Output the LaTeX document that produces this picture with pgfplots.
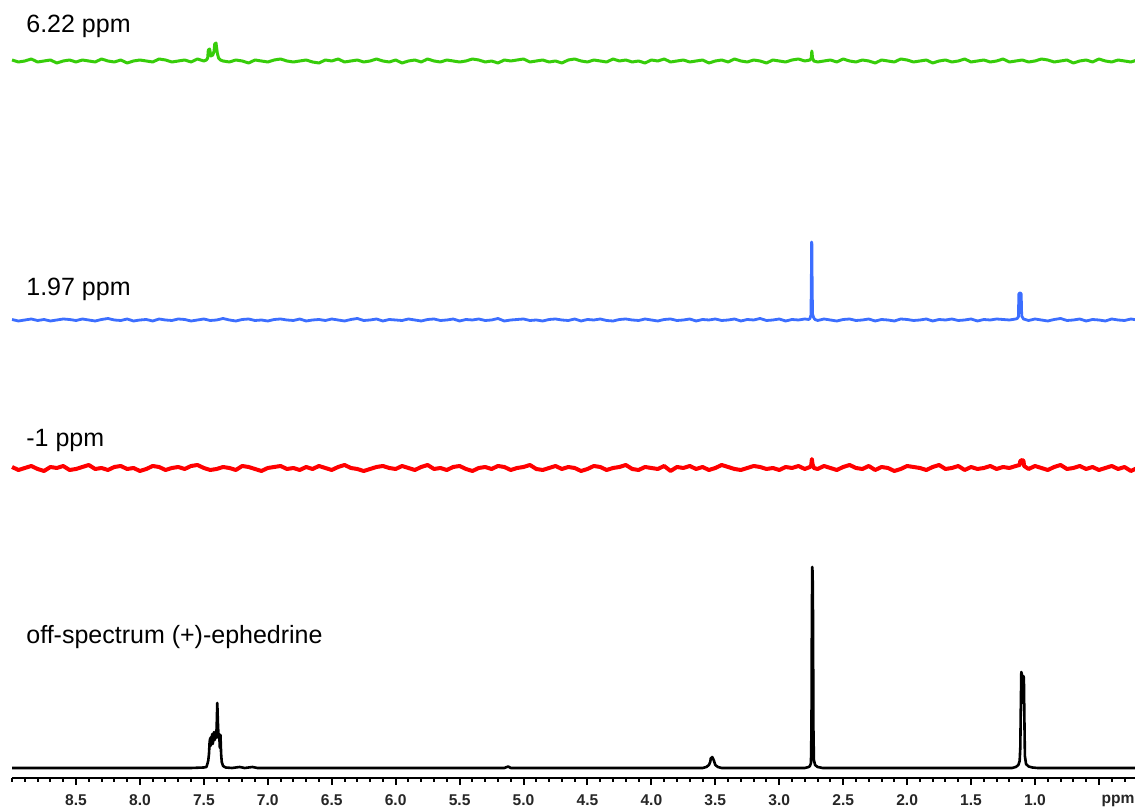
\documentclass[border=0pt]{standalone}
\usepackage{pgfplots}
\usepackage{pgfplotstable}
\pgfplotsset{compat=1.18}
\usepackage{fontspec}
\setmainfont{Liberation Sans}
\definecolor{sgreen}{RGB}{55,205,10}
\definecolor{sblue}{RGB}{60,110,255}
\definecolor{sred}{RGB}{255,0,0}

% black: off-spectrum (+)-ephedrine, intensity above its baseline (px)
\pgfplotstableread[row sep=\\]{
x y\\
9.00 0\\ 7.60 0\\ 7.50 0.5\\ 7.48 1\\ 7.47 5\\ 7.465 8\\ 7.46 14\\ 7.455 26\\ 7.45 30\\ 7.447 22\\
7.444 31\\ 7.44 26\\ 7.435 34\\ 7.43 24\\ 7.425 30\\ 7.42 36\\ 7.415 28\\ 7.41 33\\ 7.405 30\\
7.40 40\\ 7.395 65\\ 7.39 45\\ 7.385 30\\ 7.38 34\\ 7.375 20\\ 7.37 33\\ 7.365 14\\ 7.36 6\\ 7.35 2\\
7.33 0.5\\ 7.28 0\\ 7.22 1\\ 7.18 0\\ 7.12 1\\ 7.08 0\\ 5.15 0\\ 5.12 1.5\\ 5.10 0\\
3.60 0\\ 3.57 1\\ 3.55 3\\ 3.54 6\\ 3.535 10\\ 3.53 9\\ 3.525 11\\ 3.52 10\\ 3.51 7\\ 3.50 3\\ 3.48 1\\ 3.45 0\\
2.80 0\\ 2.77 1\\ 2.76 2\\ 2.752 5\\ 2.748 40\\ 2.745 150\\ 2.742 201\\ 2.739 195\\ 2.736 150\\ 2.733 40\\ 2.729 8\\ 2.72 3\\ 2.70 1\\ 2.66 0\\
1.18 0\\ 1.15 1\\ 1.13 3\\ 1.12 7\\ 1.115 20\\ 1.111 60\\ 1.107 96\\ 1.103 94\\ 1.099 70\\ 1.095 65\\
1.091 92\\ 1.087 90\\ 1.083 50\\ 1.079 12\\ 1.07 4\\ 1.05 1.5\\ 1.02 0.5\\ 0.98 0\\ 0.20 0\\
}\blacktab

% red: -1 ppm
\pgfplotstableread[row sep=\\]{
x y\\
9.00 1\\ 8.95 -2\\ 8.90 0\\ 8.85 2\\ 8.80 -1\\ 8.75 -3\\ 8.70 1\\ 8.65 0\\ 8.60 2\\ 8.55 -2\\
8.50 -1\\ 8.45 1\\ 8.40 3\\ 8.35 -1\\ 8.30 0\\ 8.25 -2\\ 8.20 1\\ 8.15 2\\ 8.10 -1\\ 8.05 0\\
8.00 -3\\ 7.95 -1\\ 7.90 2\\ 7.85 1\\ 7.80 -2\\ 7.75 0\\ 7.70 1\\ 7.65 -1\\ 7.60 2\\ 7.55 3\\
7.50 0\\ 7.45 -2\\ 7.40 -1\\ 7.35 1\\ 7.30 0\\ 7.25 -2\\ 7.20 2\\ 7.15 1\\ 7.10 -1\\ 7.05 -3\\
7.00 0\\ 6.95 1\\ 6.90 2\\ 6.85 -1\\ 6.80 0\\ 6.75 -2\\ 6.70 1\\ 6.65 -1\\ 6.60 2\\ 6.55 0\\
6.50 -2\\ 6.45 1\\ 6.40 3\\ 6.35 0\\ 6.30 -1\\ 6.25 -3\\ 6.20 -1\\ 6.15 1\\ 6.10 2\\ 6.05 0\\
6.00 -1\\ 5.95 2\\ 5.90 0\\ 5.85 -2\\ 5.80 1\\ 5.75 3\\ 5.70 -1\\ 5.65 0\\ 5.60 -2\\ 5.55 1\\
5.50 2\\ 5.45 -1\\ 5.40 -3\\ 5.35 0\\ 5.30 1\\ 5.25 -1\\ 5.20 2\\ 5.15 1\\ 5.10 -2\\ 5.05 0\\
5.00 1\\ 4.95 3\\ 4.90 -1\\ 4.85 -2\\ 4.80 0\\ 4.75 2\\ 4.70 -1\\ 4.65 1\\ 4.60 0\\ 4.55 -3\\
4.50 -1\\ 4.45 2\\ 4.40 1\\ 4.35 -2\\ 4.30 0\\ 4.25 1\\ 4.20 3\\ 4.15 -1\\ 4.10 -2\\ 4.05 1\\
4.00 0\\ 3.95 -1\\ 3.90 2\\ 3.85 -3\\ 3.80 1\\ 3.75 0\\ 3.70 2\\ 3.65 -1\\ 3.60 1\\ 3.55 -2\\
3.50 0\\ 3.45 3\\ 3.40 1\\ 3.35 -1\\ 3.30 -2\\ 3.25 0\\ 3.20 2\\ 3.15 1\\ 3.10 -1\\ 3.05 0\\
3.00 -2\\ 2.95 1\\ 2.90 0\\ 2.85 2\\ 2.80 -1\\ 2.76 1\\ 2.75 3\\ 2.745 9\\ 2.74 4\\ 2.73 0\\
2.70 -1\\ 2.65 2\\ 2.60 0\\ 2.55 -2\\ 2.50 1\\ 2.45 3\\ 2.40 0\\ 2.35 -1\\ 2.30 2\\ 2.25 -2\\
2.20 1\\ 2.15 0\\ 2.10 -3\\ 2.05 -1\\ 2.00 2\\ 1.95 1\\ 1.90 0\\ 1.85 -2\\ 1.80 1\\ 1.75 3\\
1.70 -1\\ 1.65 0\\ 1.60 2\\ 1.55 -2\\ 1.50 1\\ 1.45 -1\\ 1.40 0\\ 1.35 2\\ 1.30 -1\\ 1.25 1\\
1.20 0\\ 1.15 2\\ 1.12 3\\ 1.115 7\\ 1.10 8\\ 1.09 7\\ 1.085 2\\
1.05 -1\\ 1.00 2\\ 0.95 0\\ 0.90 -2\\ 0.85 1\\ 0.80 3\\ 0.75 -1\\ 0.70 0\\ 0.65 2\\ 0.60 -1\\
0.55 1\\ 0.50 -2\\ 0.45 0\\ 0.40 2\\ 0.35 -1\\ 0.30 1\\ 0.25 -3\\ 0.20 0\\
}\redtab

% blue: 1.97 ppm
\pgfplotstableread[row sep=\\]{
x y\\
9.00 0.5\\ 8.95 -1\\ 8.90 0\\ 8.85 1\\ 8.80 -0.5\\ 8.75 0.5\\ 8.70 -1\\ 8.65 0\\ 8.60 1\\ 8.55 0.5\\
8.50 -0.5\\ 8.45 1\\ 8.40 0\\ 8.35 -1\\ 8.30 0.5\\ 8.25 1.5\\ 8.20 0\\ 8.15 -0.5\\ 8.10 1\\ 8.05 -1\\
8.00 0\\ 7.95 0.5\\ 7.90 -1\\ 7.85 1\\ 7.80 0\\ 7.75 -0.5\\ 7.70 1\\ 7.65 0.5\\ 7.60 -1\\ 7.55 0\\
7.50 1\\ 7.45 -0.5\\ 7.40 0\\ 7.35 1.5\\ 7.30 0\\ 7.25 -1\\ 7.20 0.5\\ 7.15 1\\ 7.10 -0.5\\ 7.05 0\\
7.00 -1\\ 6.95 0.5\\ 6.90 1\\ 6.85 0\\ 6.80 -0.5\\ 6.75 1\\ 6.70 -1\\ 6.65 0\\ 6.60 0.5\\ 6.55 -0.5\\
6.50 1\\ 6.45 0\\ 6.40 -1\\ 6.35 0.5\\ 6.30 1.5\\ 6.25 -0.5\\ 6.20 0\\ 6.15 1\\ 6.10 -1\\ 6.05 0.5\\
6.00 0\\ 5.95 -0.5\\ 5.90 1\\ 5.85 0\\ 5.80 -1\\ 5.75 0.5\\ 5.70 1\\ 5.65 -0.5\\ 5.60 0\\ 5.55 1\\
5.50 -1\\ 5.45 0.5\\ 5.40 0\\ 5.35 1\\ 5.30 -0.5\\ 5.25 0\\ 5.20 1.5\\ 5.15 -1\\ 5.10 0\\ 5.05 0.5\\
5.00 1\\ 4.95 -0.5\\ 4.90 0\\ 4.85 -1\\ 4.80 0.5\\ 4.75 1\\ 4.70 0\\ 4.65 -0.5\\ 4.60 1\\ 4.55 -1\\
4.50 0.5\\ 4.45 0\\ 4.40 1\\ 4.35 -0.5\\ 4.30 -1\\ 4.25 0.5\\ 4.20 1\\ 4.15 0\\ 4.10 -0.5\\ 4.05 1\\
4.00 0\\ 3.95 -1\\ 3.90 0.5\\ 3.85 1\\ 3.80 -0.5\\ 3.75 0\\ 3.70 1\\ 3.65 -1\\ 3.60 0.5\\ 3.55 0\\
3.50 1\\ 3.45 -0.5\\ 3.40 0\\ 3.35 1\\ 3.30 -1\\ 3.25 0.5\\ 3.20 0\\ 3.15 1.5\\ 3.10 -0.5\\ 3.05 0\\
3.00 1\\ 2.95 -1\\ 2.90 0.5\\ 2.85 0\\ 2.80 1\\ 2.77 0.5\\ 2.76 1.5\\ 2.752 5\\ 2.749 40\\ 2.747 78\\
2.745 76\\ 2.743 40\\ 2.740 6\\ 2.73 2\\ 2.72 0.5\\
2.70 -0.5\\ 2.65 1\\ 2.60 0\\ 2.55 -1\\ 2.50 0.5\\ 2.45 1\\ 2.40 -0.5\\ 2.35 0\\ 2.30 1\\ 2.25 -1\\
2.20 0.5\\ 2.15 0\\ 2.10 -1\\ 2.05 1\\ 2.00 0.5\\ 1.95 -0.5\\ 1.90 0\\ 1.85 1\\ 1.80 -1\\ 1.75 0.5\\
1.70 0\\ 1.65 1\\ 1.60 -0.5\\ 1.55 0\\ 1.50 1\\ 1.45 -1\\ 1.40 0.5\\ 1.35 0\\ 1.30 1\\ 1.25 0.5\\
1.20 0\\ 1.15 1\\ 1.14 1.5\\ 1.13 3\\ 1.126 26\\ 1.12 27\\ 1.114 27\\ 1.108 26\\ 1.104 4\\ 1.09 1\\
1.05 -0.5\\ 1.00 1\\ 0.95 0\\ 0.90 -1\\ 0.85 0.5\\ 0.80 1.5\\ 0.75 -0.5\\ 0.70 0\\ 0.65 1\\ 0.60 -1\\
0.55 0.5\\ 0.50 0\\ 0.45 -1\\ 0.40 1\\ 0.35 0\\ 0.30 -0.5\\ 0.25 1\\ 0.20 0\\
}\bluetab

% green: 6.22 ppm
\pgfplotstableread[row sep=\\]{
x y\\
9.00 1\\ 8.95 -1\\ 8.90 0\\ 8.85 2\\ 8.80 -1\\ 8.75 0\\ 8.70 1\\ 8.65 -2\\ 8.60 0\\ 8.55 1\\
8.50 -1\\ 8.45 1\\ 8.40 0\\ 8.35 -1\\ 8.30 2\\ 8.25 0\\ 8.20 -1\\ 8.15 1\\ 8.10 -2\\ 8.05 0\\
8.00 1\\ 7.95 0\\ 7.90 -1\\ 7.85 2\\ 7.80 1\\ 7.75 -1\\ 7.70 0\\ 7.65 1\\ 7.60 -1\\ 7.55 2\\
7.50 0\\ 7.48 1\\ 7.47 3\\ 7.465 11\\ 7.455 12\\ 7.445 5\\ 7.43 6\\ 7.42 10\\ 7.415 17\\ 7.405 18\\
7.395 8\\ 7.385 3\\ 7.37 1\\
7.35 0\\ 7.30 -1\\ 7.25 1\\ 7.20 0\\ 7.15 -2\\ 7.10 1\\ 7.05 0\\
7.00 -1\\ 6.95 1\\ 6.90 2\\ 6.85 0\\ 6.80 -1\\ 6.75 0\\ 6.70 1\\ 6.65 -1\\ 6.60 -2\\ 6.55 1\\
6.50 0\\ 6.45 2\\ 6.40 -1\\ 6.35 0\\ 6.30 1\\ 6.25 -1\\ 6.20 0\\ 6.15 2\\ 6.10 0\\ 6.05 -1\\
6.00 1\\ 5.95 -2\\ 5.90 0\\ 5.85 1\\ 5.80 -1\\ 5.75 2\\ 5.70 0\\ 5.65 -1\\ 5.60 1\\ 5.55 0\\
5.50 -1\\ 5.45 0\\ 5.40 2\\ 5.35 1\\ 5.30 -1\\ 5.25 0\\ 5.20 -2\\ 5.15 1\\ 5.10 0\\ 5.05 1\\
5.00 2\\ 4.95 -1\\ 4.90 0\\ 4.85 1\\ 4.80 -1\\ 4.75 0\\ 4.70 -2\\ 4.65 1\\ 4.60 2\\ 4.55 0\\
4.50 -1\\ 4.45 1\\ 4.40 0\\ 4.35 -1\\ 4.30 2\\ 4.25 0\\ 4.20 1\\ 4.15 -1\\ 4.10 0\\ 4.05 -2\\
4.00 1\\ 3.95 0\\ 3.90 2\\ 3.85 -1\\ 3.80 0\\ 3.75 1\\ 3.70 -1\\ 3.65 0\\ 3.60 1\\ 3.55 -2\\
3.50 0\\ 3.45 1\\ 3.40 -1\\ 3.35 2\\ 3.30 0\\ 3.25 -1\\ 3.20 1\\ 3.15 0\\ 3.10 -2\\ 3.05 1\\
3.00 0\\ 2.95 -1\\ 2.90 1\\ 2.85 2\\ 2.80 0\\ 2.76 1\\ 2.75 3\\ 2.745 10\\ 2.74 3\\ 2.73 0\\
2.70 -1\\ 2.65 0\\ 2.60 1\\ 2.55 -1\\ 2.50 2\\ 2.45 0\\ 2.40 -1\\ 2.35 1\\ 2.30 0\\ 2.25 -2\\
2.20 1\\ 2.15 0\\ 2.10 -1\\ 2.05 2\\ 2.00 1\\ 1.95 -1\\ 1.90 0\\ 1.85 1\\ 1.80 -2\\ 1.75 0\\
1.70 1\\ 1.65 -1\\ 1.60 0\\ 1.55 2\\ 1.50 -1\\ 1.45 0\\ 1.40 1\\ 1.35 -1\\ 1.30 0\\ 1.25 2\\
1.20 -1\\ 1.15 0\\ 1.10 1\\ 1.05 -1\\ 1.00 0\\ 0.95 2\\ 0.90 1\\ 0.85 -1\\ 0.80 0\\ 0.75 1\\
0.70 -2\\ 0.65 0\\ 0.60 1\\ 0.55 -1\\ 0.50 2\\ 0.45 0\\ 0.40 -1\\ 0.35 1\\ 0.30 0\\ 0.25 -1\\ 0.20 1\\
}\greentab

\begin{document}
\begin{tikzpicture}
\begin{axis}[
  scale only axis,
  width=561.5pt, height=389pt,
  x dir=reverse,
  xmin=0.218, xmax=9.0005,
  ymin=0, ymax=778,
  clip=false,
  axis y line=none,
  axis x line*=bottom,
  x axis line style={-, line width=1pt, black},
  xtick={0.5,1.0,1.5,2.0,2.5,3.0,3.5,4.0,4.5,5.0,5.5,6.0,6.5,7.0,7.5,8.0,8.5},
  xticklabels={,1.0,1.5,2.0,2.5,3.0,3.5,4.0,4.5,5.0,5.5,6.0,6.5,7.0,7.5,8.0,8.5},
  minor xtick={0.3,0.4,0.6,0.7,0.8,0.9,1.1,1.2,1.3,1.4,1.6,1.7,1.8,1.9,2.1,2.2,2.3,2.4,2.6,2.7,2.8,2.9,3.1,3.2,3.3,3.4,3.6,3.7,3.8,3.9,4.1,4.2,4.3,4.4,4.6,4.7,4.8,4.9,5.1,5.2,5.3,5.4,5.6,5.7,5.8,5.9,6.1,6.2,6.3,6.4,6.6,6.7,6.8,6.9,7.1,7.2,7.3,7.4,7.6,7.7,7.8,7.9,8.1,8.2,8.3,8.4,8.6,8.7,8.8,8.9,9.0},
  extra x ticks={0.35},
  extra x tick labels={ppm},
  extra x tick style={major tick style={draw=none}},
  tick align=outside,
  major tick length=3.5pt,
  minor tick length=2pt,
  tick style={line width=1pt, black},
  xticklabel style={font=\bfseries\fontsize{7.8}{9}\selectfont, text=black!85, yshift=-1.5pt},
  /pgf/number format/assume math mode=true,
]
\addplot[black, line width=1.3pt, line join=round] table[x=x, y expr=\thisrow{y}+10] {\blacktab};
\addplot[sred, line width=2pt, line join=round] table[x=x, y expr=\thisrow{y}+310] {\redtab};
\addplot[sblue, line width=1.4pt, line join=round] table[x=x, y expr=\thisrow{y}+458] {\bluetab};
\addplot[sgreen, line width=1.5pt, line join=round] table[x=x, y expr=\thisrow{y}+717] {\greentab};

\node[anchor=base west, inner sep=0pt, font=\fontsize{12.5}{15}\selectfont] at (axis cs:8.891,745) {6.22 ppm};
\node[anchor=base west, inner sep=0pt, font=\fontsize{12.5}{15}\selectfont] at (axis cs:8.891,482) {1.97 ppm};
\node[anchor=base west, inner sep=0pt, font=\fontsize{12.5}{15}\selectfont] at (axis cs:8.891,331) {-1 ppm};
\node[anchor=base west, inner sep=0pt, font=\fontsize{12.5}{15}\selectfont] at (axis cs:8.891,134) {off-spectrum (+)-ephedrine};

\coordinate (bl) at (axis cs:9.0944,-31);
\coordinate (tr) at (axis cs:0.218,778);
\end{axis}
\pgfresetboundingbox
\useasboundingbox (bl) rectangle (tr);
\end{tikzpicture}
\end{document}
